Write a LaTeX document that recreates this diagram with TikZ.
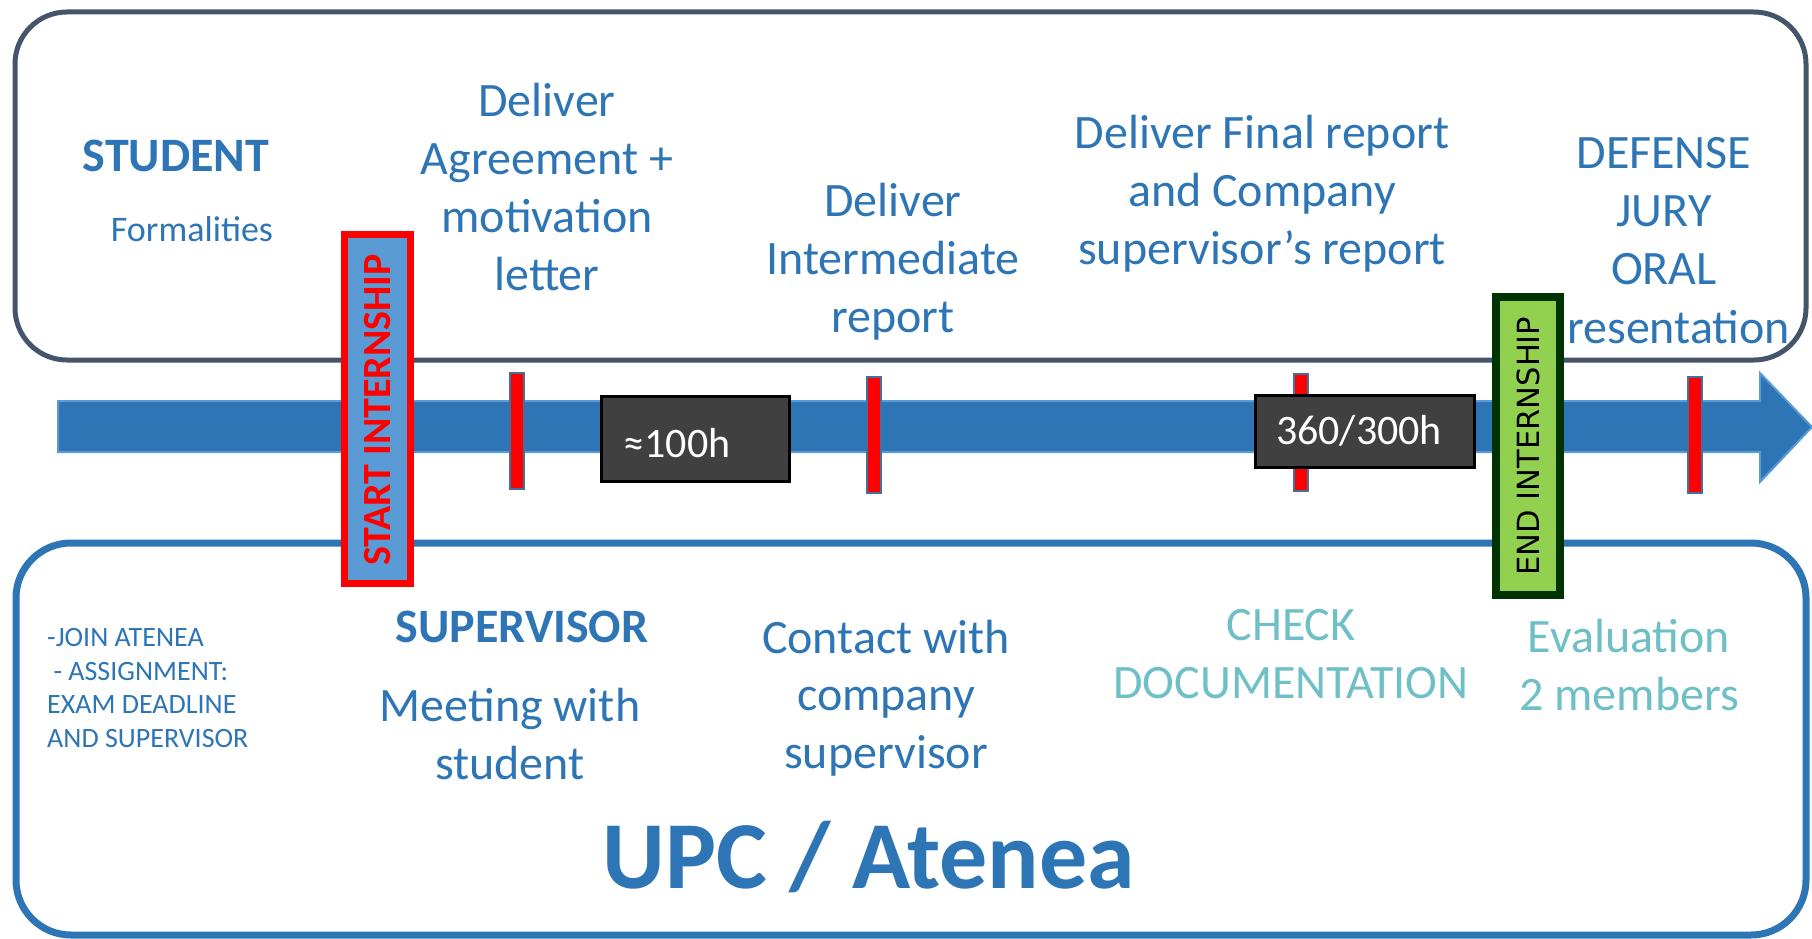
\documentclass[tikz,border=0pt]{standalone}
\usepackage{fontspec}
\setmainfont{Carlito}
\definecolor{ublue}{HTML}{2E75B6}
\definecolor{lblue}{HTML}{5B9BD5}
\definecolor{slate}{HTML}{44546A}
\definecolor{teal2}{HTML}{6FBFC6}
\definecolor{darkbox}{HTML}{404040}
\definecolor{egreen}{HTML}{92D050}
\definecolor{dgreen}{HTML}{003300}
\definecolor{tickline}{HTML}{41719C}
\tikzset{
  lbl/.style={text=ublue, align=center, inner sep=0pt, font=\fontsize{48}{57.8}\selectfont},
  lblteal/.style={text=teal2, align=center, inner sep=0pt, font=\fontsize{48}{57.8}\selectfont},
  hdr/.style={text=ublue, align=center, inner sep=0pt, font=\fontsize{48}{57.8}\selectfont\bfseries},
  tickbar/.style={fill=red, draw=tickline, line width=2pt},
  hourbox/.style={fill=darkbox, draw=black, line width=3pt},
  hourtxt/.style={text=white, inner sep=0pt, font=\fontsize{42}{50}\selectfont},
}
\begin{document}
\begin{tikzpicture}[x=1pt,y=-1pt]
\useasboundingbox (0,0) rectangle (1812,939);
% frames
\draw[slate, line width=5pt, rounded corners=52pt] (15,12) rectangle (1806,360);
\draw[ublue, line width=7pt, rounded corners=55pt] (16,543) rectangle (1806,935);
% timeline arrow
\filldraw[fill=ublue, draw=lblue, line width=2pt]
  (58,401) -- (1760,401) -- (1760,373) -- (1812,427) -- (1760,482) -- (1760,452) -- (58,452) -- cycle;
% ticks
\draw[tickbar] (510,373) rectangle (524,489);
\draw[tickbar] (867,377) rectangle (881,493);
\draw[tickbar] (1294,374) rectangle (1308,491);
\draw[tickbar] (1688,377) rectangle (1702,493);
% hour boxes
\draw[hourbox] (601,396) rectangle (789,481);
\node[hourtxt] (h100) at (677,443) {≈100h};
\draw[hourbox] (1255,395) rectangle (1474,467);
\node[hourtxt] (h360) at (1359,431) {360/300h};
% top texts
\node[hdr] (student) at (176,156) {STUDENT};
\node[lbl, font=\fontsize{36}{44}\selectfont] (formal) at (192,229) {Formalities};
\node[lbl] (agree) at (547,187) {Deliver\\Agreement +\\motivation\\letter};
\node[lbl] (inter) at (893,262) {Deliver\\Intermediate\\report};
\node[lbl] (final) at (1262,194) {Deliver Final report\\and Company\\supervisor’s report};
\node[lbl] (defense) at (1664,211) {DEFENSE\\JURY\\ORAL};
\node[lbl, anchor=west] (pres) at (1567,327) {resentation};
% start / end markers
\draw[fill=lblue, draw=red, line width=7pt] (344.5,234.5) rectangle (410.5,583.5);
\node[text=red, rotate=90, inner sep=0pt, font=\fontsize{40}{46}\selectfont\bfseries] (start) at (378,410) {START INTERNSHIP};
\draw[fill=egreen, draw=dgreen, line width=8pt] (1496,297) rectangle (1560,595);
\node[text=black, rotate=90, inner sep=0pt, font=\fontspec{DejaVu Sans}\fontsize{30.5}{36}\selectfont] (endi) at (1528,446) {END INTERNSHIP};
% bottom texts
\node[lbl, align=left, anchor=west, font=\fontsize{28}{33.5}\selectfont] (join) at (47,688) {-JOIN ATENEA\\\ - ASSIGNMENT:\\EXAM DEADLINE\\AND SUPERVISOR};
\node[hdr] (sup) at (522,627) {SUPERVISOR};
\node[lbl] (meet) at (510,734) {Meeting with\\student};
\node[lbl] (contact) at (886,698) {Contact with\\company\\supervisor};
\node[lblteal] (check) at (1291,654) {CHECK\\DOCUMENTATION};
\node[lblteal] (eval) at (1629,665) {Evaluation\\2 members};
\node[text=ublue, inner sep=0pt, font=\fontsize{96}{110}\selectfont\bfseries] (upc) at (869,857) {UPC / Atenea};
\end{tikzpicture}
\end{document}
